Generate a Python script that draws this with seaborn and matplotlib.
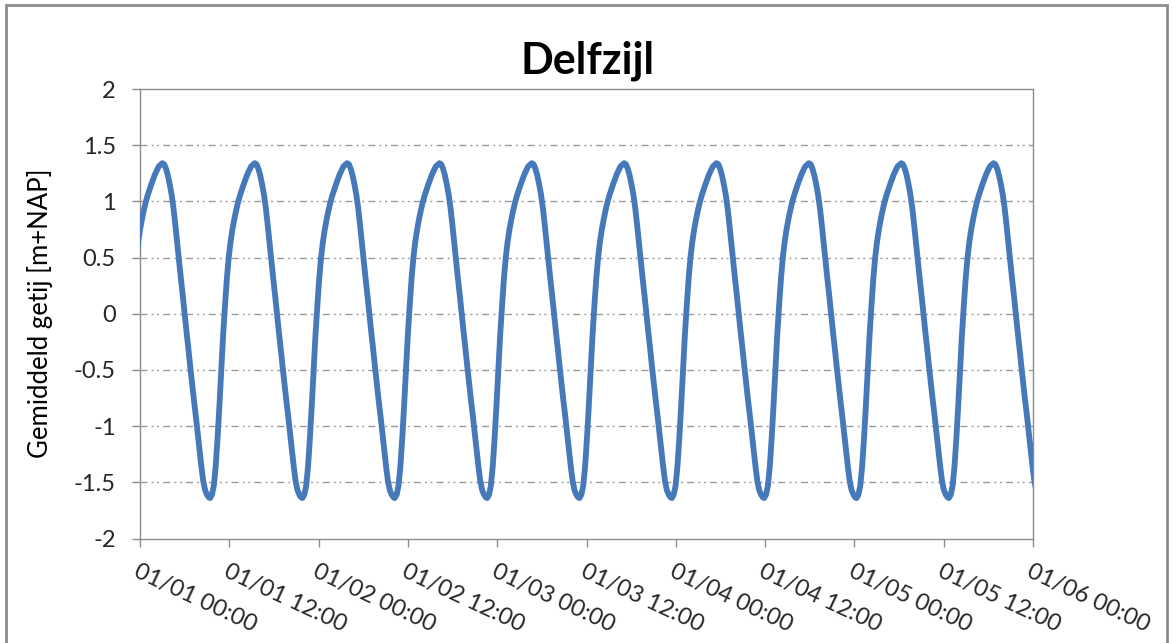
import matplotlib
matplotlib.use('Agg')
import matplotlib.pyplot as plt
import numpy as np
import pandas as pd
import seaborn as sns
from matplotlib.patches import Rectangle

# one averaged tide cycle (hours after high water -> m+NAP)
cycle_hours = [0.0, 0.25, 0.5, 0.75, 1.0, 1.25, 1.5, 1.75, 2.0, 2.25, 2.5, 2.75,
               3.0, 3.25, 3.5, 3.75, 4.0, 4.25, 4.5, 4.75, 5.0, 5.25, 5.5, 5.75,
               6.0, 6.25, 6.42, 6.67, 6.92, 7.17, 7.42, 7.67, 7.92, 8.17, 8.42,
               8.67, 8.92, 9.17, 9.42, 9.67, 9.92, 10.17, 10.42, 10.92, 11.42, 11.92]
cycle_level = [1.34, 1.33, 1.29, 1.23, 1.15, 1.06, 0.94, 0.79, 0.63, 0.47, 0.31, 0.16,
               0.00, -0.16, -0.31, -0.47, -0.62, -0.77, -0.91, -1.06, -1.21, -1.36, -1.49, -1.57,
               -1.61, -1.635, -1.64, -1.61, -1.53, -1.36, -1.11, -0.82, -0.50, -0.19, 0.07,
               0.31, 0.50, 0.64, 0.75, 0.84, 0.92, 0.99, 1.05, 1.15, 1.24, 1.31]
period_h = 12.41      # time between successive high waters
first_hw_h = 3.0      # first high water after 01/01 00:00

tick_hours = [0, 12, 24, 36, 48, 60, 72, 84, 96, 108, 120]
tick_labels = ['01/01 00:00', '01/01 12:00', '01/02 00:00', '01/02 12:00',
               '01/03 00:00', '01/03 12:00', '01/04 00:00', '01/04 12:00',
               '01/05 00:00', '01/05 12:00', '01/06 00:00']
y_ticks = [-2, -1.5, -1, -0.5, 0, 0.5, 1, 1.5, 2]
y_labels = ['-2', '-1.5', '-1', '-0.5', '0', '0.5', '1', '1.5', '2']

# repeat the averaged cycle over the five days
hours, levels = [], []
for k in range(-1, 10):
    hours += [first_hw_h + k * period_h + h for h in cycle_hours]
    levels += cycle_level
df = pd.DataFrame({'hour': hours, 'level': levels})
df = df[(df['hour'] > -2) & (df['hour'] < 122)]

sns.set_theme(style='white')
plt.rcParams['font.family'] = ['Lato', 'DejaVu Sans']

fig = plt.figure(figsize=(11.72, 6.43), dpi=100)
ax = fig.add_axes([140 / 1172, 1 - 538.5 / 643, 893 / 1172, 449.5 / 643])

grid_c = '#9a9a9a'
for v in y_ticks[1:-1]:
    ax.axhline(v, color=grid_c, lw=1.0, ls=(0, (5, 3, 1.4, 2.6, 1.4, 3)), zorder=1)

sns.lineplot(data=df, x='hour', y='level', ax=ax, color='#4579BA', lw=4.2,
             estimator=None, sort=False, zorder=3)

ax.set_xlim(0, 120)
ax.set_ylim(-2, 2)
ax.set_xticks(tick_hours)
ax.set_xticklabels(tick_labels, rotation=-25, ha='left', va='top',
                   rotation_mode='anchor', fontsize=17)
ax.set_yticks(y_ticks)
ax.set_yticklabels(y_labels, fontsize=17)
ax.tick_params(axis='x', direction='out', length=6, width=1, color='#8c8c8c',
               pad=10, bottom=True)
ax.tick_params(axis='y', direction='out', length=5.5, width=1, color='#8c8c8c',
               pad=12, left=True)
ax.set_xlabel('')
ax.set_ylabel('')
for s in ax.spines.values():
    s.set_color('#8c8c8c')
    s.set_linewidth(1.0)

fig.text(588 / 1172, 1 - 61 / 643, 'Delfzijl', ha='center', va='center',
         fontsize=31, fontweight='bold', color='black')
fig.text(40 / 1172, 1 - 313 / 643, 'Gemiddeld getij [m+NAP]', rotation=90,
         ha='center', va='center', fontsize=18.5, color='black')

# outer chart border
fig.patches.append(Rectangle((6 / 1172, -0.05), 1161 / 1172, 1.05 - 5 / 643,
                             transform=fig.transFigure, fill=False,
                             edgecolor='#8c8c8c', lw=2.0))

fig.savefig('out.png', dpi=100)
